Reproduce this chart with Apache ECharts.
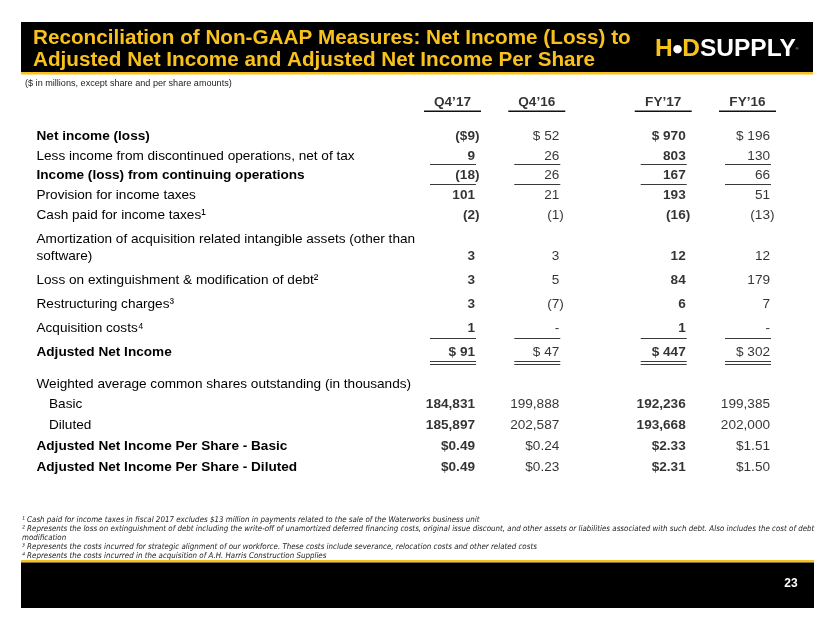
<!DOCTYPE html>
<html>
<head>
<meta charset="utf-8">
<script src="https://cdn.jsdelivr.net/npm/echarts@6/dist/echarts.min.js"></script>
<style>
html,body{margin:0;padding:0;background:#fff;}
#c{width:830px;height:623px;}
</style>
</head>
<body>
<div id="c"></div>
<script>
// ---------- data ----------
const columns = ['Q4’17', 'Q4’16', 'FY’17', 'FY’16'];
const columnSlots = ['Q4’17', '', 'Q4’16', '', '', 'FY’17', '', 'FY’16'];
const boldColumns = ['Q4’17', 'FY’17'];

const sectionA = [
  'Net income (loss)',
  'Less income from discontinued operations, net of tax',
  'Income (loss) from continuing operations',
  'Provision for income taxes',
  'Cash paid for income taxes¹'
];
const sectionB = [
  'Amortization of acquisition related intangible assets (other than\nsoftware)',
  'Loss on extinguishment & modification of debt²',
  'Restructuring charges³',
  'Acquisition costs⁴',
  'Adjusted Net Income'
];
const sectionC = [
  'Weighted average common shares outstanding (in thousands)',
  'Basic',
  'Diluted',
  'Adjusted Net Income Per Share - Basic',
  'Adjusted Net Income Per Share - Diluted'
];

const q4_17 = [-9, 9, -18, 101, -2, 3, 3, 3, 1, 91, null, 184831, 185897, 0.49, 0.49];
const q4_16 = [52, 26, 26, 21, -1, 3, 5, -7, 0, 47, null, 199888, 202587, 0.24, 0.23];
const fy_17 = [970, 803, 167, 193, -16, 12, 84, 6, 1, 447, null, 192236, 193668, 2.33, 2.31];
const fy_16 = [196, 130, 66, 51, -13, 12, 179, 7, 0, 302, null, 199385, 202000, 1.51, 1.50];

const boldRows = ['Net income (loss)', 'Income (loss) from continuing operations', 'Adjusted Net Income',
  'Adjusted Net Income Per Share - Basic', 'Adjusted Net Income Per Share - Diluted'];
const indentRows = ['Basic', 'Diluted'];
const dollarRows = ['Net income (loss)', 'Adjusted Net Income'];
const perShareRows = ['Adjusted Net Income Per Share - Basic', 'Adjusted Net Income Per Share - Diluted'];
const shareRows = ['Basic', 'Diluted'];
const singleUnderlineRows = ['Less income from discontinued operations, net of tax',
  'Income (loss) from continuing operations', 'Acquisition costs⁴'];
const doubleUnderlineRows = ['Adjusted Net Income'];

const titleText = 'Reconciliation of Non-GAAP Measures: Net Income (Loss) to\nAdjusted Net Income and Adjusted Net Income Per Share';
const subText = '($ in millions, except share and per share amounts)';
const footnotes = [
  '¹ Cash paid for income taxes in fiscal 2017 excludes $13 million in payments related to the sale of the Waterworks business unit',
  '² Represents the loss on extinguishment of debt including the write-off of unamortized deferred financing costs, original issue discount, and other assets or liabilities associated with such debt. Also includes the cost of debt',
  'modification',
  '³ Represents the costs incurred for strategic alignment of our workforce. These costs include severance, relocation costs and other related costs',
  '⁴ Represents the costs incurred in the acquisition of A.H. Harris Construction Supplies'
];
const pageNumber = '23';

// ---------- build ----------
const FONT = '"Liberation Sans", Arial, Helvetica, sans-serif';
const NARROW = '"Liberation Sans Narrow", "Arial Narrow", "DejaVu Sans Condensed", sans-serif';
const FS = 13.6;
const YELLOW = '#F9C11C';
const colValues = { 'Q4’17': q4_17, 'Q4’16': q4_16, 'FY’17': fy_17, 'FY’16': fy_16 };

function fmt(row, v) {
  if (v === null || v === undefined) return null;
  if (shareRows.includes(row)) return v.toLocaleString('en-US');
  if (perShareRows.includes(row)) return '$' + v.toFixed(2);
  if (dollarRows.includes(row)) return v < 0 ? '($' + (-v) + ')' : '$ ' + v;
  if (v === 0) return '-';
  return v < 0 ? '(' + (-v) + ')' : String(v);
}

const gridDefs = [
  { rows: ['header'], top: 92, height: 20 },
  { rows: sectionA, top: 126.125, height: 98.75, single: 8 },
  { rows: sectionB, top: 244, height: 120, single: 10, double: [9, 11.5] },
  { rows: sectionC, top: 373.6, height: 103.75 }
];

const grid = [], xAxis = [], yAxis = [], series = [];

gridDefs.forEach((g, gi) => {
  grid.push({ left: 475, right: 60, top: g.top, height: g.height, containLabel: false, outerBoundsMode: 'none' });
  xAxis.push({ type: 'category', gridIndex: gi, data: columnSlots, boundaryGap: false, show: false });
  yAxis.push({
    type: 'category', gridIndex: gi, data: g.rows, inverse: true, boundaryGap: true,
    show: gi !== 0,
    axisLine: { show: false }, axisTick: { show: false }, splitLine: { show: false },
    axisLabel: {
      interval: 0, align: 'left', margin: 438.5, color: '#000', fontSize: FS, fontFamily: FONT, lineHeight: 17,
      formatter: (v) => {
        if (boldRows.includes(v)) return '{b|' + v + '}';
        if (indentRows.includes(v)) return '{ind|' + v + '}';
        if (v.indexOf('\n') >= 0) return v + '\n ';
        return v;
      },
      rich: {
        b: { fontWeight: 'bold', fontSize: FS, fontFamily: FONT, color: '#000', lineHeight: 17 },
        ind: { fontSize: FS, fontFamily: FONT, color: '#000', padding: [0, 0, 0, 12.5], lineHeight: 17 }
      }
    }
  });
});

// header row
series.push({
  type: 'scatter', xAxisIndex: 0, yAxisIndex: 0, symbolSize: 0, silent: true, animation: false,
  data: columns.map(c => ({ value: [columnSlots.indexOf(c), 0], txt: c })),
  label: {
    show: true, position: [0, 0], align: 'center', verticalAlign: 'middle', offset: [-22.5, 0],
    fontWeight: 'bold', fontSize: FS, fontFamily: FONT, color: '#000',
    formatter: p => p.data.txt
  }
});
series.push({
  type: 'custom', xAxisIndex: 0, yAxisIndex: 0, silent: true, animation: false,
  data: columns.map(c => [columnSlots.indexOf(c), 0]),
  renderItem: (params, api) => {
    const p = api.coord([api.value(0), api.value(1)]);
    const y = Math.round(p[1] + 9) + 0.25;
    return { type: 'line', shape: { x1: p[0] - 51, y1: y, x2: p[0] + 6, y2: y },
      style: { stroke: '#111', lineWidth: 1.5 } };
  }
});

// value cells
let offset = 0;
gridDefs.forEach((g, gi) => {
  if (gi === 0) return;
  columns.forEach(c => {
    const vals = colValues[c];
    const data = [];
    g.rows.forEach((row, ri) => {
      const t = fmt(row, vals[offset + ri]);
      if (t === null) return;
      const item = { value: [columnSlots.indexOf(c), ri], txt: t };
      if (t.endsWith(')')) item.label = { offset: [4.5, 0] };
      data.push(item);
    });
    series.push({
      type: 'scatter', xAxisIndex: gi, yAxisIndex: gi, symbolSize: 0, silent: true, animation: false,
      data,
      label: {
        show: true, position: [0, 0], align: 'right', verticalAlign: 'middle',
        fontWeight: boldColumns.includes(c) ? 'bold' : 'normal',
        fontSize: FS, fontFamily: FONT, color: '#000',
        formatter: p => p.data.txt
      }
    });
  });
  // underlines
  const ul = [];
  g.rows.forEach((row, ri) => {
    const type = singleUnderlineRows.includes(row) ? 1 : doubleUnderlineRows.includes(row) ? 2 : 0;
    if (type) columns.forEach(c => ul.push([columnSlots.indexOf(c), ri, type]));
  });
  if (ul.length) {
    series.push({
      type: 'custom', xAxisIndex: gi, yAxisIndex: gi, silent: true, animation: false, data: ul,
      renderItem: (params, api) => {
        const p = api.coord([api.value(0), api.value(1)]);
        const type = api.value(2);
        const offs = type === 1 ? [g.single] : g.double;
        return {
          type: 'group',
          children: offs.map(d => {
            const y = Math.round(p[1] + d) + 0.5;
            return { type: 'line', shape: { x1: p[0] - 45, y1: y, x2: p[0] + 1, y2: y },
              style: { stroke: '#3a3a3a', lineWidth: 1 } };
          })
        };
      }
    });
  }
  offset += g.rows.length;
});

// ---------- decoration ----------
const graphic = [
  { type: 'rect', shape: { x: 21, y: 22, width: 792, height: 50 }, style: { fill: '#000' }, silent: true },
  { type: 'rect', shape: { x: 21, y: 72, width: 792, height: 2.5 }, style: { fill: YELLOW }, silent: true },
  { type: 'text', x: 33, y: 27, silent: true,
    style: { text: titleText, fill: YELLOW, font: 'bold 20.7px ' + FONT, lineHeight: 22,
      align: 'left', verticalAlign: 'top', textAlign: 'left', textVerticalAlign: 'top' } },
  { type: 'text', x: 655, y: 49, silent: true,
    style: {
      text: '{y|H}{c|●}{y|D}{w|SUPPLY}{r|®}',
      verticalAlign: 'middle', textVerticalAlign: 'middle',
      rich: {
        y: { fill: YELLOW, font: 'bold 24.5px ' + FONT },
        c: { fill: '#fff', font: 'bold 11px "DejaVu Sans"' },
        w: { fill: '#fff', font: 'bold 24.5px ' + FONT },
        r: { fill: '#ccc', font: '4px ' + FONT }
      }
    } },
  { type: 'text', x: 25, y: 83, silent: true,
    style: { text: subText, fill: '#222', font: '9.1px ' + FONT, verticalAlign: 'middle', textVerticalAlign: 'middle' } },
  { type: 'text', x: 22, y: 515.5, silent: true,
    style: { text: footnotes.join('\n'), fill: '#222', font: 'italic 7.9px ' + NARROW, lineHeight: 9,
      verticalAlign: 'top', textVerticalAlign: 'top' } },
  { type: 'rect', shape: { x: 21, y: 560, width: 793, height: 2.5 }, style: { fill: YELLOW }, silent: true },
  { type: 'rect', shape: { x: 21, y: 562.5, width: 793, height: 45.5 }, style: { fill: '#000' }, silent: true },
  { type: 'text', x: 791, y: 583.5, silent: true,
    style: { text: pageNumber, fill: '#fff', font: 'bold 12px ' + FONT, align: 'center', verticalAlign: 'middle',
      textAlign: 'center', textVerticalAlign: 'middle' } }
];

const chart = echarts.init(document.getElementById('c'), null, { renderer: 'canvas' });
chart.setOption({
  backgroundColor: '#fff',
  animation: false,
  tooltip: { show: false },
  grid, xAxis, yAxis, series, graphic
});
</script>
</body>
</html>
